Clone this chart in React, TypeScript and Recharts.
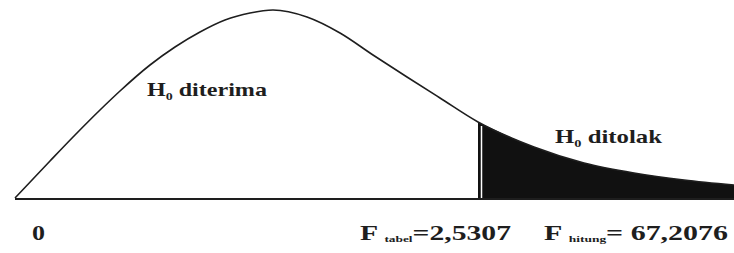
import React from 'react';
import { ComposedChart, Line, Area, XAxis, YAxis, ReferenceLine, ReferenceDot } from 'recharts';

// Horizontal position (arbitrary units) and curve height
const xs = [0, 0.35, 0.6, 0.85, 1.05, 1.35, 1.6, 1.85, 2.1, 2.35, 2.58, 2.92, 3.25, 3.58, 3.92, 4.25, 4.63, 5.19, 5.69, 6.19, 6.69, 7.19];
const density = [1, 38, 64, 89, 108, 134, 152, 167, 179, 186, 189, 182, 166, 144, 122, 101, 77, 52, 36, 26, 19, 14];

const cutoff = 4.63;
const tickValues = [0, cutoff, 7.19];
const tickLabels = [
  { main: '0', sub: '', rest: '' },
  { main: 'F ', sub: 'tabel', rest: '=2,5307' },
  { main: 'F ', sub: 'hitung', rest: '= 67,2076' },
];

const data = xs.map((x, i) => ({
  x,
  y: density[i],
  tail: x >= cutoff ? density[i] : null,
}));

const ink = '#1e1e1e';
const font = 'Liberation Serif, Times New Roman, DejaVu Serif, serif';

// where each label ends relative to its tick, and how wide it is drawn
const tickLayout = [
  { dx: 30, width: 13 },
  { dx: 33, width: 151 },
  { dx: -6, width: 184 },
];

const AxisTick = (props: any) => {
  const { x, y, index } = props;
  const lbl = tickLabels[index];
  const lay = tickLayout[index];
  if (!lbl) return null;
  return (
    <text
      x={x + lay.dx - lay.width}
      y={y + 33}
      textLength={lay.width}
      lengthAdjust="spacingAndGlyphs"
      fontFamily={font}
      fontWeight="bold"
      fontSize={20}
      fill={ink}
    >
      {lbl.main}
      {lbl.sub && (
        <tspan fontSize={9} dy={2}>
          {lbl.sub}
        </tspan>
      )}
      {lbl.rest && (
        <tspan dy={lbl.sub ? -2 : 0}>{lbl.rest}</tspan>
      )}
    </text>
  );
};

const regionLabel = (text: string, width: number) => (p: any) => (
  <text
    x={p.cx}
    y={p.cy}
    textLength={width}
    lengthAdjust="spacingAndGlyphs"
    fontFamily={font}
    fontWeight="bold"
    fontSize={19}
    fill={ink}
  >
    H
    <tspan fontSize={11} dy={4}>0</tspan>
    <tspan dy={-4}>{' ' + text}</tspan>
  </text>
);

export default function App() {
  return (
    <div style={{ position: 'absolute', left: 0, top: 0, background: '#fff' }}>
      <ComposedChart
        width={734}
        height={253}
        data={data}
        margin={{ top: 0, right: 0, left: 15, bottom: 14 }}
      >
        <XAxis
          dataKey="x"
          type="number"
          domain={[0, 7.19]}
          ticks={tickValues}
          height={40}
          tickLine={false}
          axisLine={{ stroke: ink, strokeWidth: 2 }}
          tick={<AxisTick />}
          interval={0}
        />
        <YAxis hide domain={[0, 199]} />
        <Area
          dataKey="tail"
          type="monotone"
          fill="#111"
          fillOpacity={1}
          stroke="none"
          isAnimationActive={false}
          connectNulls={false}
        />
        <ReferenceLine
          segment={[{ x: 4.665, y: 0 }, { x: 4.665, y: 73 }]}
          stroke="#fff"
          strokeWidth={1.5}
        />
        <Line
          dataKey="y"
          type="monotone"
          stroke={ink}
          strokeWidth={1.6}
          dot={false}
          isAnimationActive={false}
        />
        <ReferenceDot x={1.32} y={103} r={0} shape={regionLabel('diterima', 120)} />
        <ReferenceDot x={5.4} y={56} r={0} shape={regionLabel('ditolak', 107)} />
      </ComposedChart>
    </div>
  );
}
